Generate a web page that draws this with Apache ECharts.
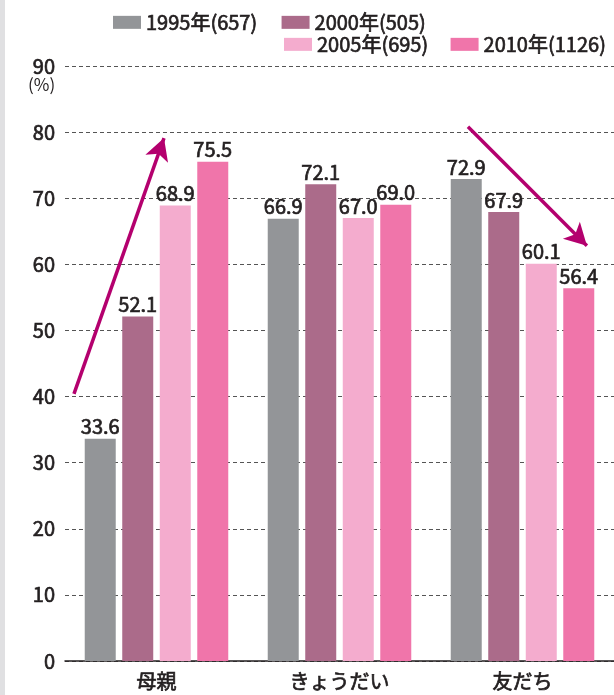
<!DOCTYPE html>
<html>
<head>
<meta charset="utf-8">
<script src="https://cdn.jsdelivr.net/npm/echarts@6/dist/echarts.min.js"></script>
<style>
html, body { margin: 0; padding: 0; background: #fff; }
#chart { width: 614px; height: 695px; }
</style>
</head>
<body>
<div id="chart"></div>
<script>
// データ
const categories = ['母親', 'きょうだい', '友だち'];
const seriesNames = ['1995年(657)', '2000年(505)', '2005年(695)', '2010年(1126)'];
const values1995 = [33.6, 66.9, 72.9];
const values2000 = [52.1, 72.1, 67.9];
const values2005 = [68.9, 67.0, 60.1];
const values2010 = [75.5, 69.0, 56.4];
const yTicks = [0, 10, 20, 30, 40, 50, 60, 70, 80, 90];
// 矢印 (値の座標: x はカテゴリ単位, y は %)
const arrowUp = [[0.049, 40.4], [0.541, 79.1]];
const arrowDown = [[2.202, 80.8], [2.852, 62.8]];

const colors = ['#939598', '#ab6b8a', '#f4acce', '#f075aa'];
const font = '"Noto Sans CJK JP", "Noto Sans", sans-serif';
const textColor = '#231f20';

// 少し太めに見せるため、同じ色で細い縁取り
const txt = {
  color: textColor,
  fontFamily: font,
  fontSize: 20,
  textBorderColor: textColor,
  textBorderWidth: 0.7
};

const allValues = [values1995, values2000, values2005, values2010];

const chart = echarts.init(document.getElementById('chart'));

const barSeries = seriesNames.map((name, i) => ({
  name: name,
  type: 'bar',
  barWidth: 31,
  barGap: '21%',
  itemStyle: { color: colors[i] },
  label: Object.assign({
    show: true,
    position: 'top',
    distance: 2,
    formatter: p => p.value.toFixed(1)
  }, txt),
  data: allValues[i]
}));

const option = {
  animation: false,
  backgroundColor: '#fff',
  grid: { left: 65, right: 0, top: 66, bottom: 34 },
  legend: [
    {
      data: seriesNames.slice(0, 2),
      left: 113, top: 12, width: 400, padding: 0,
      itemWidth: 28, itemHeight: 13, itemGap: 24,
      textStyle: txt,
      icon: 'rect'
    },
    {
      data: seriesNames.slice(2),
      left: 284, top: 34, width: 340, padding: 0,
      itemWidth: 28, itemHeight: 13, itemGap: 22,
      textStyle: txt,
      icon: 'rect'
    }
  ],
  xAxis: [
    {
      type: 'category',
      data: categories,
      axisLine: { lineStyle: { color: '#231f20', width: 1.5 } },
      axisTick: { show: false },
      axisLabel: Object.assign({ margin: 10 }, txt)
    },
    { type: 'value', min: 0, max: 3, show: false }
  ],
  yAxis: {
    type: 'value',
    min: yTicks[0],
    max: yTicks[yTicks.length - 1],
    interval: 10,
    axisLine: { show: false },
    axisTick: { show: false },
    axisLabel: Object.assign({ margin: 10 }, txt),
    splitLine: { lineStyle: { color: '#555', type: [4, 3], width: 1 } }
  },
  graphic: [
    { type: 'rect', left: 0, top: 0, shape: { width: 5, height: 695 }, style: { fill: '#e0e0e2' } },
    {
      type: 'text', left: 28, top: 76,
      style: { text: '(%)', fill: textColor, fontSize: 17, fontFamily: font }
    }
  ],
  series: barSeries.concat([
    {
      type: 'line',
      xAxisIndex: 1,
      data: [],
      silent: true,
      markLine: {
        silent: true,
        symbol: ['none', 'arrow'],
        symbolSize: [18, 22],
        label: { show: false },
        lineStyle: { color: '#b4006e', width: 3.5, type: 'solid' },
        data: [
          [{ coord: arrowUp[0] }, { coord: arrowUp[1] }],
          [{ coord: arrowDown[0] }, { coord: arrowDown[1] }]
        ]
      }
    }
  ])
};

chart.setOption(option);
</script>
</body>
</html>
